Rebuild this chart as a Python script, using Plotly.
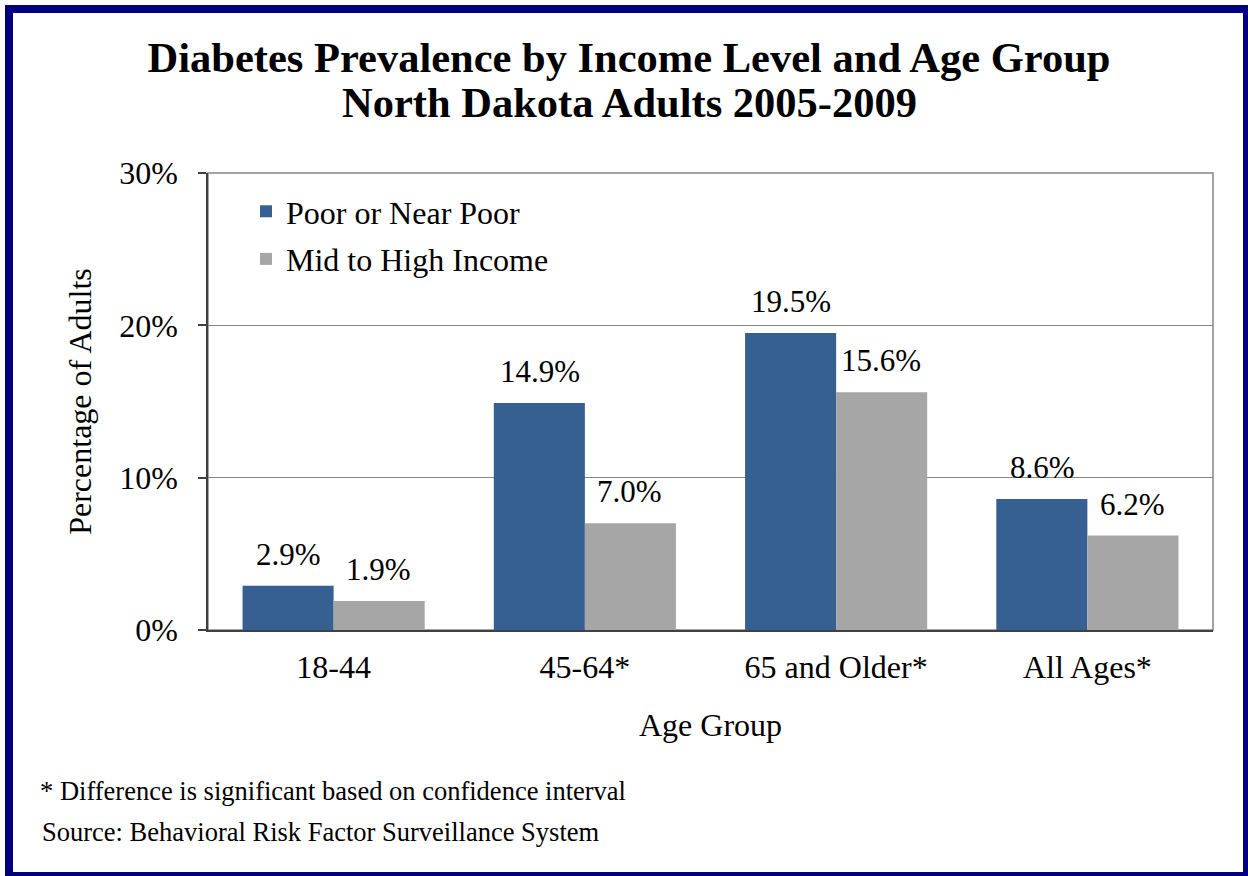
import plotly.graph_objects as go

# Diabetes prevalence (%) by income level and age group, ND adults 2005-2009
age_groups = ["18-44", "45-64*", "65 and Older*", "All Ages*"]
poor_near_poor = [2.9, 14.9, 19.5, 8.6]
mid_high_income = [1.9, 7.0, 15.6, 6.2]
y_ticks = [0, 10, 20, 30]
y_tick_labels = ["0%", "10%", "20%", "30%"]

BLUE = "#376092"
GRAY = "#A6A6A6"
NAVY = "#000080"
SERIF = "Liberation Serif, Times New Roman, serif"

W, H = 1248, 876

fig = go.Figure()
fig.add_trace(go.Bar(
    x=age_groups, y=poor_near_poor, name="Poor or Near Poor",
    marker=dict(color=BLUE, line=dict(width=0)), legendgroup="a",
))
fig.add_trace(go.Bar(
    x=age_groups, y=mid_high_income, name="Mid to High Income",
    marker=dict(color=GRAY, line=dict(width=0)), legendgroup="b",
))

# value labels above each bar
offset = 45
for series, shift in ((poor_near_poor, -offset), (mid_high_income, offset)):
    for cat, val in zip(age_groups, series):
        fig.add_annotation(
            x=cat, y=val, xref="x", yref="y", text=f"{val:.1f}%",
            showarrow=False, xshift=shift, yanchor="bottom", yshift=12,
            font=dict(family=SERIF, size=31, color="black"),
        )

# plot frame (top/right edges) in gray
fig.add_shape(type="rect", xref="x domain", yref="y domain", x0=0, x1=1, y0=0, y1=1,
              line=dict(color="#868686", width=1.5), layer="below")

# outer navy border
fig.add_shape(type="rect", xref="paper", yref="paper",
              x0=9 / W, x1=1 - 1 / W, y0=0, y1=1 - 9 / H,
              line=dict(color=NAVY, width=8), layer="above")

# second title line
fig.add_annotation(x=629 / W, y=1 - 103 / H, xref="paper", yref="paper",
                   xanchor="center", yanchor="middle", showarrow=False,
                   text="<b>North Dakota Adults 2005-2009</b>",
                   font=dict(family=SERIF, size=42.5, color="black"))

# footnotes
fig.add_annotation(x=38 / W, y=1 - 791 / H, xref="paper", yref="paper", xanchor="left",
                   yanchor="middle",
                   text="* Difference is significant based on confidence interval",
                   showarrow=False, font=dict(family=SERIF, size=26.5, color="black"))
fig.add_annotation(x=40 / W, y=1 - 832 / H, xref="paper", yref="paper", xanchor="left",
                   yanchor="middle",
                   text="Source: Behavioral Risk Factor Surveillance System",
                   showarrow=False, font=dict(family=SERIF, size=26.5, color="black"))

fig.update_layout(
    width=W, height=H,
    margin=dict(l=0, r=0, t=0, b=0, autoexpand=False),
    paper_bgcolor="white", plot_bgcolor="white",
    barmode="group", bargap=0.275, bargroupgap=0,
    font=dict(family=SERIF, color="black"),
    title=dict(
        text="<b>Diabetes Prevalence by Income Level and Age Group</b>",
        x=629 / W, xanchor="center", y=1 - 57 / H, yanchor="middle",
        font=dict(family=SERIF, size=42.5, color="black"),
    ),
    legend=dict(
        x=246 / W, y=1 - 184 / H, xanchor="left", yanchor="top",
        bgcolor="rgba(0,0,0,0)", font=dict(family=SERIF, size=32, color="black"),
        traceorder="grouped", tracegroupgap=3,
    ),
    xaxis=dict(
        domain=[208 / W, 1213 / W], automargin=False,
        showline=True, linecolor="#404040", linewidth=1.5,
        ticks="", tickfont=dict(family=SERIF, size=32, color="black"),
        ticklabelstandoff=8,
        title=dict(text="Age Group", font=dict(family=SERIF, size=32, color="black"), standoff=29),
    ),
    yaxis=dict(
        domain=[1 - 630 / H, 1 - 173 / H], automargin=False,
        range=[0, 30], tickvals=y_ticks, ticktext=y_tick_labels,
        showline=True, linecolor="#404040", linewidth=1.5,
        ticks="outside", ticklen=8, tickcolor="#404040", tickwidth=1.5,
        ticklabelstandoff=14,
        showgrid=True, gridcolor="#868686", gridwidth=1,
        zeroline=False,
        tickfont=dict(family=SERIF, size=32, color="black"),
        title=dict(text="Percentage of Adults", font=dict(family=SERIF, size=32, color="black"), standoff=18),
    ),
)

fig.write_html("out.html")
